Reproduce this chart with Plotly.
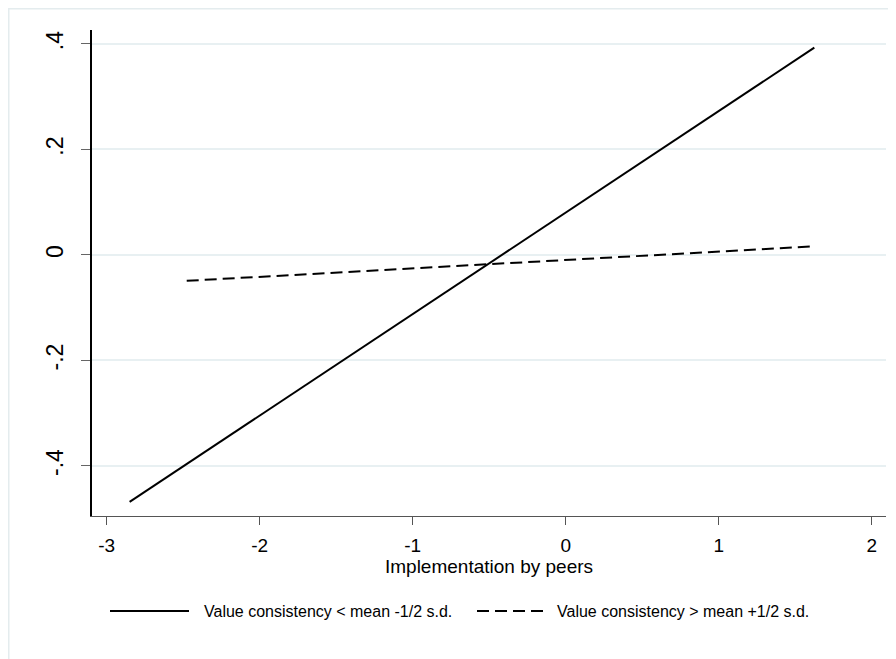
import plotly.graph_objects as go

# Data
low_x = [-2.85, 1.625]
low_y = [-0.468, 0.393]
high_x = [-2.477, 1.63]
high_y = [-0.049, 0.0165]

series_names = ["Value consistency < mean -1/2 s.d.",
                "Value consistency > mean +1/2 s.d."]
x_ticks = [-3, -2, -1, 0, 1, 2]
x_tick_labels = ["-3", "-2", "-1", "0", "1", "2"]
y_ticks = [-0.4, -0.2, 0, 0.2, 0.4]
y_tick_labels = ["-.4", "-.2", "0", ".2", ".4"]
x_title = "Implementation by peers"

FONT = "Liberation Sans, Arial, sans-serif"
OFF = 8  # browser body margin
W, H = 896 - OFF, 659 - OFF
L = 92 - OFF
T = 30 - OFF
R = W - (886 - OFF)
B = H - (516 - OFF)

fig = go.Figure()
fig.add_trace(go.Scatter(x=low_x, y=low_y, mode="lines", name=series_names[0],
                         line=dict(color="black", width=2), showlegend=False))
fig.add_trace(go.Scatter(x=high_x, y=high_y, mode="lines", name=series_names[1],
                         line=dict(color="black", width=2, dash="12px,6px"),
                         showlegend=False))

fig.update_layout(
    width=W, height=H,
    margin=dict(l=L, r=R, t=T, b=B),
    paper_bgcolor="white", plot_bgcolor="white",
    font=dict(family=FONT, color="black"),
    xaxis=dict(range=[-3.096, 2.0935], tickvals=x_ticks, ticktext=x_tick_labels,
               showgrid=False, zeroline=False, showline=True, linecolor="#555555",
               linewidth=1, ticks="outside", ticklen=8, tickcolor="#555555",
               tickfont=dict(size=19, family=FONT), ticklabelstandoff=4,
               title=dict(text=x_title, font=dict(size=19, family=FONT), standoff=2)),
    yaxis=dict(range=[-0.4948, 0.4265], tickvals=y_ticks, ticktext=y_tick_labels,
               showgrid=True, gridcolor="#e8f0f2", gridwidth=1.5, zeroline=False,
               showline=True, linecolor="black", linewidth=1.5, ticks="outside",
               ticklen=9, tickcolor="#666666", tickangle=-90,
               tickfont=dict(size=23, family=FONT), ticklabelstandoff=9),
    showlegend=False,
)


def px_x(p):
    p = p - OFF
    return (p - L) / (W - L - R)


def px_y(p):
    p = p - OFF
    return (H - B - p) / (H - T - B)


# outer frame (light border, Stata style)
fig.add_shape(type="rect", xref="paper", yref="paper",
              x0=px_x(8.75), x1=px_x(920), y0=px_y(700), y1=px_y(8.75),
              line=dict(color="#e4ecee", width=1.5), fillcolor="rgba(0,0,0,0)",
              layer="below")

# custom legend
leg_y = 611
fig.add_shape(type="line", xref="paper", yref="paper", x0=px_x(110), x1=px_x(189),
              y0=px_y(leg_y), y1=px_y(leg_y), line=dict(color="black", width=2))
fig.add_shape(type="line", xref="paper", yref="paper", x0=px_x(477), x1=px_x(546),
              y0=px_y(leg_y), y1=px_y(leg_y),
              line=dict(color="black", width=2, dash="12px,6px"))
fig.add_annotation(xref="paper", yref="paper", x=px_x(202), y=px_y(leg_y),
                   xanchor="left", yanchor="middle", showarrow=False,
                   text=series_names[0], font=dict(size=16, family=FONT))
fig.add_annotation(xref="paper", yref="paper", x=px_x(555), y=px_y(leg_y),
                   xanchor="left", yanchor="middle", showarrow=False,
                   text=series_names[1], font=dict(size=16, family=FONT))

fig.write_html("out.html")
